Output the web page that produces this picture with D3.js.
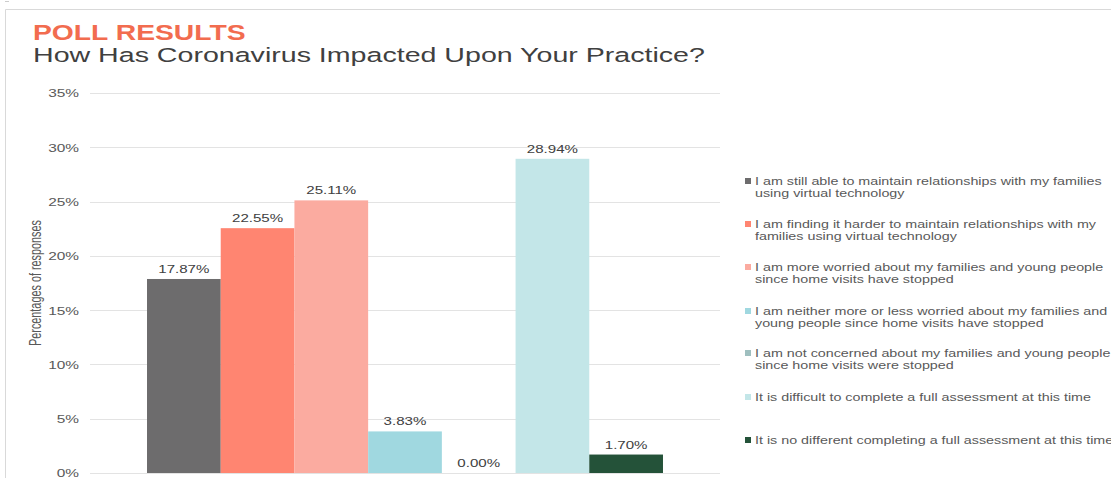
<!DOCTYPE html>
<html><head><meta charset="utf-8">
<script src="https://cdn.jsdelivr.net/npm/d3@7"></script>
<style>
html,body{margin:0;padding:0;background:#fff;}
svg{display:block;}
</style></head>
<body><svg id="c" width="1111" height="478"></svg>
<script>
const categories = [
  "I am still able to maintain relationships with my families|using virtual technology",
  "I am finding it harder to maintain relationships with my|families using virtual technology",
  "I am more worried about my families and young people|since home visits have stopped",
  "I am neither more or less worried about my families and|young people since home visits have stopped",
  "I am not concerned about my families and young people|since home visits were stopped",
  "It is difficult to complete a full assessment at this time",
  "It is no different completing a full assessment at this time"
];
const values = [17.87, 22.55, 25.11, 3.83, 0.00, 28.94, 1.70];
const colors = ["#6d6c6d", "#ff8571", "#fbaba0", "#a0d8e0", "#9fbfbf", "#c3e6e8", "#245239"];
const yTicks = [0, 5, 10, 15, 20, 25, 30, 35];

const svg = d3.select("#c");
const font = "'Liberation Sans', Arial, sans-serif";

// horizontally widen text (reference typography is stretched)
function stretch(sel, k){
  sel.each(function(){
    const w = this.getComputedTextLength();
    d3.select(this).attr("textLength", w*k).attr("lengthAdjust","spacingAndGlyphs");
  });
}

// frame
svg.append("path").attr("d","M5.5,478 V9.5 H1111").attr("fill","none").attr("stroke","#d9d9d9").attr("stroke-width",1);
svg.append("line").attr("x1",5).attr("x2",9).attr("y1",1.5).attr("y2",1.5).attr("stroke","#cccccc");

svg.append("text").attr("x",33).attr("y",40).attr("font-family",font).attr("font-weight","bold")
  .attr("font-size",22).attr("fill","#f26c4f").text("POLL RESULTS").call(stretch,1.285);
svg.append("text").attr("x",33).attr("y",62).attr("font-family",font)
  .attr("font-size",20.5).attr("fill","#404040").text("How Has Coronavirus Impacted Upon Your Practice?").call(stretch,1.394);

const y = d3.scaleLinear().domain([0,35]).range([473,93]);
const x0 = d3.scaleBand().domain(["g"]).range([90,720]).paddingInner(0).paddingOuter(0.1105);
const x1 = d3.scaleBand().domain(d3.range(values.length)).range([x0("g"), x0("g")+x0.bandwidth()]);

// gridlines
svg.append("g").selectAll("line").data(yTicks).join("line")
  .attr("x1",90).attr("x2",720).attr("y1",d=>Math.round(y(d))+0.5).attr("y2",d=>Math.round(y(d))+0.5)
  .attr("stroke","#e3e3e3").attr("stroke-width",1);

const yAxis = d3.axisLeft(y).tickValues(yTicks).tickFormat(d=>d+"%").tickSize(0).tickPadding(0);
const ga = svg.append("g").attr("transform","translate(79,0)").call(yAxis);
ga.select(".domain").remove();
ga.selectAll("text").attr("font-family",font).attr("font-size",11).attr("fill","#595959").attr("dy","0.35em").call(stretch,1.4);

svg.append("text").attr("transform","translate(41,283) scale(1.3,1) rotate(-90)").attr("text-anchor","middle")
  .attr("font-family","'Liberation Sans Narrow', 'Arial Narrow', sans-serif").attr("font-size",12.5)
  .attr("fill","#595959").text("Percentages of responses").attr("textLength",126).attr("lengthAdjust","spacingAndGlyphs");

// bars
svg.append("g").selectAll("rect").data(values).join("rect")
  .attr("x",(d,i)=>x1(i)).attr("width",x1.bandwidth())
  .attr("y",d=>y(d)).attr("height",d=>y(0)-y(d)).attr("fill",(d,i)=>colors[i]);

svg.append("g").selectAll("text").data(values).join("text")
  .attr("x",(d,i)=>x1(i)+x1.bandwidth()/2).attr("y",d=>y(d)-6)
  .attr("text-anchor","middle").attr("font-family",font).attr("font-size",11).attr("fill","#404040")
  .text(d=>d.toFixed(2)+"%").call(stretch,1.37);

// legend
const legY = [185, 228, 271, 315, 357, 401, 444];
const lg = svg.append("g");
categories.forEach((c,i)=>{
  lg.append("rect").attr("x",745).attr("y",legY[i]-7).attr("width",6).attr("height",6).attr("fill",colors[i]);
  c.split("|").forEach((line,j)=>{
    lg.append("text").attr("x",755).attr("y",legY[i]+j*11.5).attr("font-family",font)
      .attr("font-size",10.6).attr("fill","#595959").text(line).call(stretch,1.35);
  });
});
</script></body></html>
